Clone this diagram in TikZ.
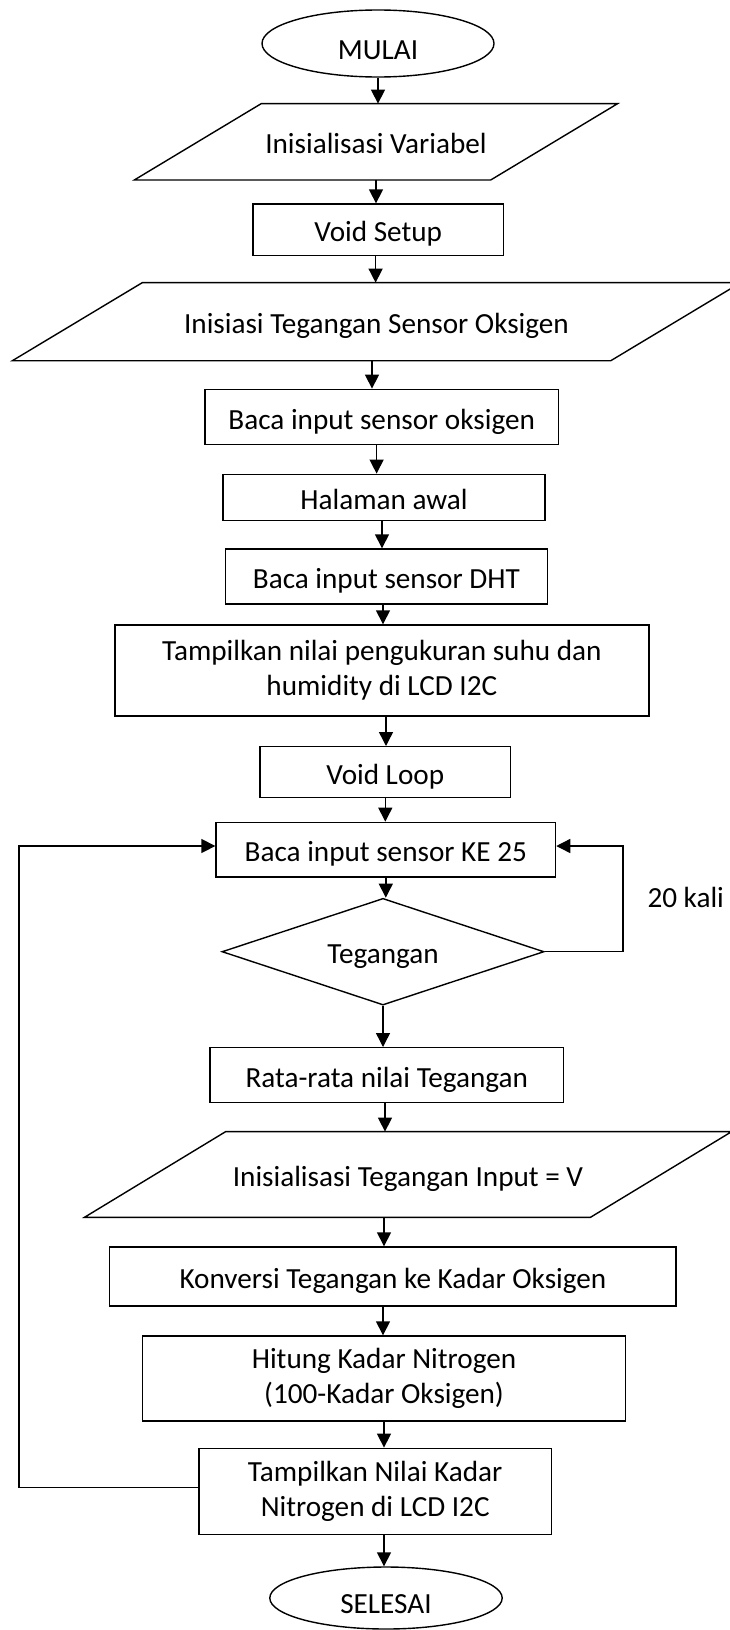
\documentclass[tikz,border=0pt]{standalone}
\usepackage{fontspec}
\setmainfont{Carlito}
\usetikzlibrary{shapes.geometric,arrows.meta,calc}
\begin{document}
\begin{tikzpicture}[x=1pt,y=-1pt,
  font=\fontsize{29.2}{35}\selectfont,
  line width=1.4pt,
  box/.style={draw, rectangle, inner sep=0pt, text height=24pt, text depth=0pt},
  mbox/.style={draw, rectangle, inner sep=0pt, align=center},
  para/.style={rectangle, inner sep=0pt, text height=24pt, text depth=0pt},
  term/.style={draw, ellipse, inner sep=0pt, text height=31pt, text depth=0pt},
  dec/.style={draw, diamond, aspect=3, inner sep=0pt, text height=24pt, text depth=0pt},
  arr/.style={-{Triangle[length=14pt,width=14pt]}}
]
\useasboundingbox (0,0) rectangle (729,1630);

\node[term, minimum width=232pt, minimum height=67pt] (M) at (378,43.5) {MULAI};
\node[para, minimum width=355pt, minimum height=75pt] (P1) at (376,141.8) {Inisialisasi Variabel};
\draw ([xshift=63.5pt]P1.north west) -- ([xshift=63.5pt]P1.north east) -- ([xshift=-63.5pt]P1.south east) -- ([xshift=-63.5pt]P1.south west) -- cycle;
\node[box, minimum width=250.5pt, minimum height=51.7pt] (VS) at (378.3,229.9) {Void Setup};
\node[para, minimum width=597pt, minimum height=76.7pt] (P2) at (376.5,321.7) {Inisiasi Tegangan Sensor Oksigen};
\draw ([xshift=65pt]P2.north west) -- ([xshift=65pt]P2.north east) -- ([xshift=-65pt]P2.south east) -- ([xshift=-65pt]P2.south west) -- cycle;
\node[box, minimum width=353.3pt, minimum height=55.4pt] (BO) at (381.7,417) {Baca input sensor oksigen};
\node[box, minimum width=322pt, minimum height=46.4pt] (HA) at (384,497.5) {Halaman awal};
\node[box, minimum width=321.7pt, minimum height=55pt] (DHT) at (386.4,576.5) {Baca input sensor DHT};
\node[mbox, minimum width=534.2pt, minimum height=91pt] (TS) at (381.9,670.5) {Tampilkan nilai pengukuran suhu dan\\humidity di LCD I2C};
\node[box, minimum width=250.5pt, minimum height=50.6pt] (VL) at (385.3,772) {Void Loop};
\node[box, minimum width=339.5pt, minimum height=54.7pt] (KE) at (385.8,849.7) {Baca input sensor KE 25};
\node[dec, minimum width=322pt, minimum height=106.7pt] (D) at (383,951.7) {Tegangan};
\node[anchor=base] (lbl) at (685.7,907.3) {20 kali};
\node[box, minimum width=353.5pt, minimum height=54.6pt] (RT) at (386.8,1075) {Rata-rata nilai Tegangan};
\node[para, minimum width=504.6pt, minimum height=84.4pt] (P3) at (408,1174.5) {Inisialisasi Tegangan Input = V};
\draw ([xshift=70.7pt]P3.north west) -- ([xshift=70.7pt]P3.north east) -- ([xshift=-70.7pt]P3.south east) -- ([xshift=-70.7pt]P3.south west) -- cycle;
\node[box, minimum width=566.3pt, minimum height=59pt] (KO) at (392.9,1276.5) {Konversi Tegangan ke Kadar Oksigen};
\node[mbox, minimum width=482.6pt, minimum height=85pt] (HN) at (384,1378.5) {Hitung Kadar Nitrogen\\(100-Kadar Oksigen)};
\node[mbox, minimum width=352.4pt, minimum height=86pt] (TN) at (375.2,1491.3) {Tampilkan Nilai Kadar\\Nitrogen di LCD I2C};
\node[term, minimum width=232.4pt, minimum height=62pt] (S) at (386,1598) {SELESAI};

\coordinate (lft) at (19,1487.3);
\coordinate (rgt) at (623,951.7);

\draw[arr] (M.south) -- (M.south |- P1.north);
\draw[arr] (P1.south) -- (P1.south |- VS.north);
\draw[arr] ([xshift=-2.7pt]VS.south) -- ([xshift=-2.7pt]VS.south |- P2.north);
\draw[arr] ([xshift=-4.5pt]P2.south) -- ([xshift=-4.5pt]P2.south |- BO.north);
\draw[arr] ([xshift=-5.1pt]BO.south) -- ([xshift=-5.1pt]BO.south |- HA.north);
\draw[arr] ([xshift=-2pt]HA.south) -- ([xshift=-2pt]HA.south |- DHT.north);
\draw[arr] ([xshift=-3.4pt]DHT.south) -- ([xshift=-3.4pt]DHT.south |- TS.north);
\draw[arr] ([xshift=4.1pt]TS.south) -- ([xshift=4.1pt]TS.south |- VL.north);
\draw[arr] (VL.south) -- (VL.south |- KE.north);
\draw[arr] (KE.south) -- (KE.south |- D.north);
\draw[arr] (D.south) -- (D.south |- RT.north);
\draw[arr] ([xshift=-1.8pt]RT.south) -- ([xshift=-1.8pt]RT.south |- P3.north);
\draw[arr] ([xshift=-24pt]P3.south) -- ([xshift=-24pt]P3.south |- KO.north);
\draw[arr] ([xshift=-9.9pt]KO.south) -- ([xshift=-9.9pt]KO.south |- HN.north);
\draw[arr] (HN.south) -- (HN.south |- TN.north);
\draw[arr] ([xshift=8.8pt]TN.south) -- ([xshift=8.8pt]TN.south |- S.north);

\draw[arr] ([yshift=4pt]TN.west) -- (lft) |- ([yshift=3.7pt]KE.west);
\draw[arr] (D.east) -- (rgt) |- ([yshift=3.7pt]KE.east);
\end{tikzpicture}
\end{document}
